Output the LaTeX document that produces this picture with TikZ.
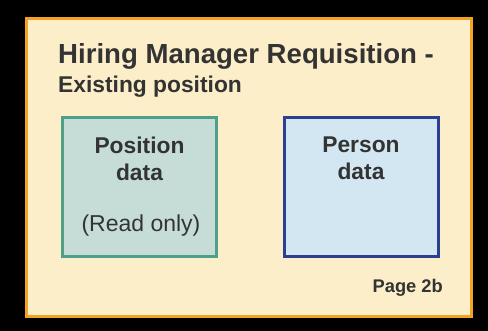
\documentclass[tikz,border=0pt]{standalone}
\usepackage{fontspec}
\setmainfont{Liberation Sans}
\usetikzlibrary{positioning}

\definecolor{pageorange}{HTML}{F2A324}
\definecolor{pagecream}{HTML}{FDEECA}
\definecolor{posgreen}{HTML}{4E9F8C}
\definecolor{posfill}{HTML}{C5DDD6}
\definecolor{perblue}{HTML}{2B3F93}
\definecolor{perfill}{HTML}{D3E7F3}
\definecolor{textgrey}{HTML}{333333}

\tikzset{
  databox/.style={draw, line width=3pt, minimum width=154pt, minimum height=139pt, inner sep=0pt},
  boxtext/.style={text=textgrey, align=center, inner sep=0pt, font=\fontsize{23}{27}\selectfont},
  boxhead/.style={boxtext, font=\bfseries\fontsize{22.8}{27}\selectfont},
}

\begin{document}
\begin{tikzpicture}[x=1pt, y=-1pt]
\fill[black] (0,0) rectangle (488,331);
\useasboundingbox (0,0) rectangle (488,331);
% page frame
\node[draw=pageorange, fill=pagecream, line width=3pt, minimum width=445pt, minimum height=298pt] (page) at (249,167.5) {};
\node[anchor=base west, text=textgrey, font=\bfseries\fontsize{27.6}{32}\selectfont, inner sep=0pt] (title) at (58,64) {Hiring Manager Requisition -};
\node[anchor=base west, text=textgrey, font=\bfseries\fontsize{22.8}{27}\selectfont, inner sep=0pt] (subtitle) at (58,93) {Existing position};
% data boxes
\node[databox, draw=posgreen, fill=posfill] (posbox) at (139.5,187) {};
\node[databox, draw=perblue, fill=perfill] (perbox) at (361,187) {};
\node[boxhead, anchor=north] (postext) at ([yshift=-21pt]posbox.north) {Position\\data};
\node[boxtext, anchor=base] (readonly) at (141,232) {(Read only)};
\node[boxhead, anchor=north] (pertext) at ([yshift=-21pt]perbox.north) {Person\\data};
\node[anchor=base east, text=textgrey, font=\bfseries\fontsize{18.3}{22}\selectfont, inner sep=0pt] (pagenum) at (443,293) {Page 2b};
\end{tikzpicture}
\end{document}
